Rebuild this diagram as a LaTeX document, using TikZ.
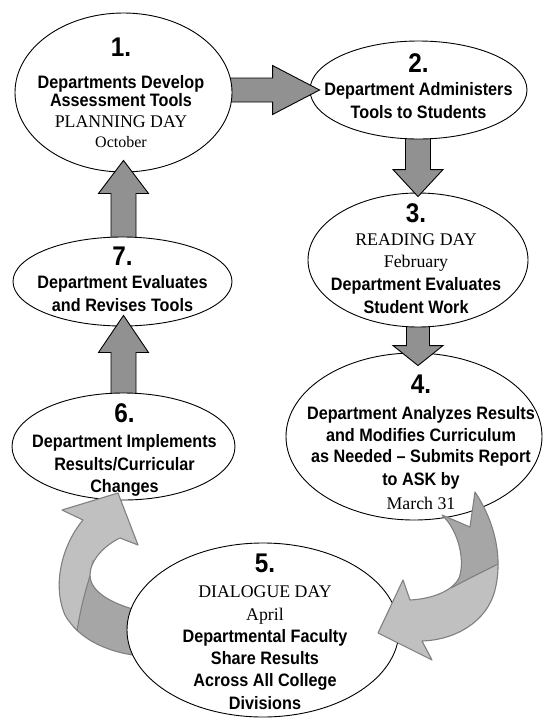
\documentclass[tikz,border=0pt]{standalone}
\usepackage{fontspec}
\setmainfont{Liberation Serif}
\newfontfamily\condsans{Liberation Sans}[FakeStretch=0.9]
\usetikzlibrary{shapes.geometric,calc}
\definecolor{arrowgray}{RGB}{145,145,145}
\definecolor{curvedark}{RGB}{166,166,166}
\definecolor{curvelight}{RGB}{192,192,192}
\definecolor{curveline}{RGB}{128,128,128}
\tikzset{
  bubble/.style={ellipse, draw=black, line width=0.9pt, fill=white, inner sep=0pt},
  blockarr/.style={draw=black, line width=0.9pt, fill=arrowgray, line join=miter},
  curveedge/.style={draw=curveline, line width=1.1pt, line join=round},
  numtxt/.style={anchor=base, inner sep=0pt, font=\condsans\bfseries\fontsize{27}{27}\selectfont},
  boldtxt/.style={anchor=base, inner sep=0pt, font=\condsans\bfseries\fontsize{18}{18}\selectfont},
  seriftxt/.style={anchor=base, inner sep=0pt, font=\fontsize{17.8}{17.8}\selectfont},
  smallserif/.style={anchor=base, inner sep=0pt, font=\fontsize{16}{16}\selectfont}
}
% tail, tip, head length, shaft half width, head half width
\newcommand\blockarrow[5]{%
  \coordinate (baT) at (#1);
  \coordinate (baP) at (#2);
  \coordinate (baB) at ($(baP)!#3!(baT)$);
  \draw[blockarr] ($(baT)!#4!90:(baP)$) -- ($(baB)!#4!90:(baP)$) -- ($(baB)!#5!90:(baP)$) -- (baP)
     -- ($(baB)!#5!-90:(baP)$) -- ($(baB)!#4!-90:(baP)$) -- ($(baT)!#4!-90:(baP)$) -- cycle;
}
\def\pathCFS{(118,493) -- (62,510) -- (83,520) .. controls (62,545) and (52,585) .. (65,615)
  .. controls (78,638) and (105,652) .. (140,656) -- (140,611)
  .. controls (112,604) and (90,592) .. (90,575) .. controls (90,560) and (105,545) .. (120,538)
  -- (138,545) -- cycle}
\def\pathCFF{(475,492) .. controls (495,522) and (503,558) .. (495,590)
  .. controls (487,622) and (455,640) .. (422,641) -- (432,660) -- (378,633) -- (403,580) -- (410,600)
  .. controls (430,599) and (452,592) .. (459,578) .. controls (465,563) and (460,532) .. (442,515)
  -- (470,527) -- cycle}
\begin{document}
\begin{tikzpicture}[x=1pt,y=-1pt]
\useasboundingbox (0,0) rectangle (544,718);

% ellipse 4 and arrow 3->4
\node[bubble, minimum width=256, minimum height=167] (e4) at (414,436.5) {};
\blockarrow{$(e4.north)+(4,-36)$}{$(e4.north)+(4,13)$}{20pt}{11.5pt}{25pt}
% ellipse 3 and arrow 2->3
\node[bubble, minimum width=220, minimum height=134] (e3) at (418,260) {};
\blockarrow{$(e3.north)+(0,-64)$}{$(e3.north)+(0,4)$}{27pt}{12.5pt}{25pt}
% ellipse 2 and arrow 1->2
\node[bubble, minimum width=217, minimum height=98] (e2) at (418.5,90) {};
\blockarrow{$(e2.west)+(-89,0)$}{$(e2.west)+(10,0)$}{47pt}{12pt}{24.5pt}
% ellipse 1 and arrow 7->1
\node[bubble, minimum width=217, minimum height=159] (e1) at (123.5,92.5) {};
\blockarrow{$(e1.south)+(0,75)$}{$(e1.south)+(0,-12)$}{33pt}{12.5pt}{25pt}
% ellipse 7 and arrow 6->7
\node[bubble, minimum width=219, minimum height=89] (e7) at (122.5,281.5) {};
\blockarrow{$(e7.south)+(1,77)$}{$(e7.south)+(1,-11)$}{37pt}{12.5pt}{25pt}
% ellipse 6
\node[bubble, minimum width=223, minimum height=107] (e6) at (123.5,446.5) {};

% curved arrow 5->6
\fill[curvelight] \pathCFS;
\begin{scope}
  \clip (90,576) .. controls (84,595) and (80,612) .. (77,631) -- (60,700) -- (200,700) -- (200,560) -- (92,560) -- cycle;
  \fill[curvedark] \pathCFS;
\end{scope}
\draw[curveedge] (90,576) .. controls (84,595) and (80,612) .. (77,631);
\draw[curveedge] \pathCFS;

% ellipse 5
\node[bubble, minimum width=272, minimum height=174] (e5) at (263,630) {};

% curved arrow 4->5
\fill[curvelight] \pathCFF;
\begin{scope}
  \clip (498,564) .. controls (482,572) and (466,580) .. (451,588) -- (430,470) -- (530,470) -- (530,564) -- cycle;
  \fill[curvedark] \pathCFF;
\end{scope}
\draw[curveedge] (498,564) .. controls (482,572) and (466,580) .. (451,588);
\draw[curveedge] \pathCFF;

% texts
\node[numtxt] (n1) at (121,56) {1.};
\node[boldtxt] (t1a) at (121,88) {Departments Develop};
\node[boldtxt] (t1b) at (121,106) {Assessment Tools};
\node[seriftxt] (t1c) at (121,127) {PLANNING DAY};
\node[smallserif] (t1d) at (121,147) {October};

\node[numtxt] (n2) at (418.5,72) {2.};
\node[boldtxt] (t2a) at (418.5,95) {Department Administers};
\node[boldtxt] (t2b) at (418.5,118) {Tools to Students};

\node[numtxt] (n3) at (416,222) {3.};
\node[seriftxt] (t3a) at (416,245) {READING DAY};
\node[seriftxt] (t3b) at (416,267) {February};
\node[boldtxt] (t3c) at (416,290) {Department Evaluates};
\node[boldtxt] (t3d) at (416,313) {Student Work};

\node[numtxt] (n4) at (421,393) {4.};
\node[boldtxt] (t4a) at (421,419) {Department Analyzes Results};
\node[boldtxt] (t4b) at (421,441) {and Modifies Curriculum};
\node[boldtxt] (t4c) at (421,462) {as Needed – Submits Report};
\node[boldtxt] (t4d) at (421,485) {to ASK by};
\node[seriftxt] (t4e) at (421,509) {March 31};

\node[numtxt] (n5) at (265,572) {5.};
\node[seriftxt] (t5a) at (265,597) {DIALOGUE DAY};
\node[seriftxt] (t5b) at (265,620) {April};
\node[boldtxt] (t5c) at (265,642) {Departmental Faculty};
\node[boldtxt] (t5d) at (265,664) {Share Results};
\node[boldtxt] (t5e) at (265,686) {Across All College};
\node[boldtxt] (t5f) at (265,709) {Divisions};

\node[numtxt] (n6) at (124.5,422) {6.};
\node[boldtxt] (t6a) at (124.5,447) {Department Implements};
\node[boldtxt] (t6b) at (124.5,470) {Results/Curricular};
\node[boldtxt] (t6c) at (124.5,492) {Changes};

\node[numtxt] (n7) at (122.5,265) {7.};
\node[boldtxt] (t7a) at (122.5,288) {Department Evaluates};
\node[boldtxt] (t7b) at (122.5,311) {and Revises Tools};
\end{tikzpicture}
\end{document}
